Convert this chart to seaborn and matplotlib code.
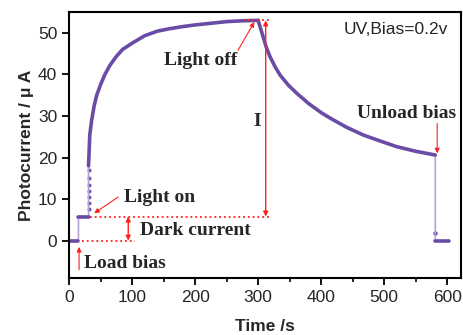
import matplotlib
matplotlib.use("Agg")
import matplotlib.pyplot as plt
import seaborn as sns
import numpy as np
import pandas as pd

sns.set_style("ticks")
plt.rcParams['font.family'] = ['Liberation Sans', 'DejaVu Sans']

# dark / bias stage
t_dark = [0, 15]
i_dark = [0, 0]
t_bias = [15, 31]
i_bias = [5.8, 5.8]
# sparse points while the light switches on
t_rise = [31, 31, 31, 31, 31, 31, 31]
i_rise = [7.5, 9.0, 10.5, 12.0, 13.5, 15.0, 17.0]
# light on
t_on = [31, 33, 36, 40, 44, 50, 57, 65, 75, 85, 100, 120, 140, 160, 180, 200, 225, 250, 275, 300]
i_on = [18, 25.5, 29, 32.5, 35, 37.5, 40, 42.2, 44.3, 46, 47.5, 49.3, 50.4, 51, 51.5, 51.9, 52.3, 52.7, 52.9, 53.0]
# light off decay
t_off = [300, 304, 308, 313, 319, 327, 335, 348, 361, 380, 400, 414, 440, 467, 495, 520, 550, 581]
i_off = [53, 51, 49, 46.5, 44.2, 41.8, 39.8, 37.4, 35.5, 33, 30.8, 29.5, 27.3, 25.4, 23.9, 22.6, 21.5, 20.6]
# bias removed
t_unload = [581, 602]
i_unload = [0, 0]
t_drop = [581, 581, 581]
i_drop = [20.6, 1.9, 0]

purple = "#6a4ca6"
light = "#b7a2d8"
red = "#ff2020"

fig, ax = plt.subplots(figsize=(4.63, 3.35), dpi=100)
fig.subplots_adjust(left=0.149, right=0.996, bottom=0.170, top=0.964)

# thin connecting trace
t_all = t_dark + t_bias + t_on + t_off + t_drop + t_unload[1:]
i_all = i_dark + i_bias + i_on + i_off + i_drop + i_unload[1:]
df_all = pd.DataFrame({"t": t_all, "i": i_all})
sns.lineplot(x="t", y="i", data=df_all, sort=False, estimator=None, color=light, lw=1.2, ax=ax)

for tt, ii in [(t_dark, i_dark), (t_bias, i_bias), (t_on, i_on), (t_off, i_off), (t_unload, i_unload)]:
    df = pd.DataFrame({"t": tt, "i": ii})
    sns.lineplot(x="t", y="i", data=df, sort=False, estimator=None, color=purple, lw=2.6, ax=ax)

sns.scatterplot(x=t_rise, y=i_rise, color=purple, s=8, linewidth=0, ax=ax)
sns.scatterplot(x=[581], y=[1.9], color=purple, s=10, linewidth=0, ax=ax)

# red guide lines
ax.plot([276, 319], [53, 53], ls=":", color=red, lw=1.3)
ax.plot([33, 319], [5.8, 5.8], ls=":", color=red, lw=1.3)
ax.plot([20, 105], [0, 0], ls=":", color=red, lw=1.3)

arr2 = dict(arrowstyle="<|-|>", color=red, lw=1, mutation_scale=7, shrinkA=0, shrinkB=0)
arr1 = dict(arrowstyle="-|>", color=red, lw=0.8, mutation_scale=7, shrinkA=0, shrinkB=0)
ax.annotate("", xy=(312, 53), xytext=(312, 5.8), arrowprops=arr2)
ax.annotate("", xy=(94, 5.8), xytext=(94, 0), arrowprops=arr2)
ax.annotate("", xy=(16, -1.5), xytext=(16, -7), arrowprops=arr1)
ax.annotate("", xy=(294, 52.6), xytext=(268, 45.8), arrowprops=arr1)
ax.annotate("", xy=(40, 6.6), xytext=(78, 10.5), arrowprops=arr1)
ax.annotate("", xy=(584, 21), xytext=(584, 28.2), arrowprops=arr1)

serif = dict(family=["Liberation Serif", "DejaVu Serif"], weight="bold", fontsize=14,
             ha="center", va="center")
ax.text(208, 43.3, "Light off", **serif)
ax.text(298, 28.6, "I", **serif)
ax.text(536, 30.7, "Unload bias", **serif)
ax.text(143, 10.3, "Light on", **serif)
ax.text(201, 2.4, "Dark current", **serif)
ax.text(89, -5.4, "Load bias", **serif)
ax.text(519, 50.9, "UV,Bias=0.2v", fontsize=12.5, ha="center", va="center")

ax.set_xlim(0, 622)
ax.set_ylim(-9, 55)
ax.set_xticks(np.arange(0, 601, 100))
ax.set_xticks(np.arange(50, 601, 100), minor=True)
ax.set_yticks(np.arange(0, 51, 10))
ax.tick_params(axis="both", which="major", labelsize=12.5, length=5, width=1.3, direction="out", color="black")
ax.tick_params(axis="x", which="minor", length=3, width=1.2, color="black")
ax.set_xlabel("Time /s", fontsize=12.5, weight="bold", labelpad=10)
ax.set_ylabel("Photocurrent / μ A", fontsize=12.5, weight="bold", labelpad=3)
for sp in ax.spines.values():
    sp.set_linewidth(1.5)
    sp.set_color("black")

plt.savefig("out.png", dpi=100)
